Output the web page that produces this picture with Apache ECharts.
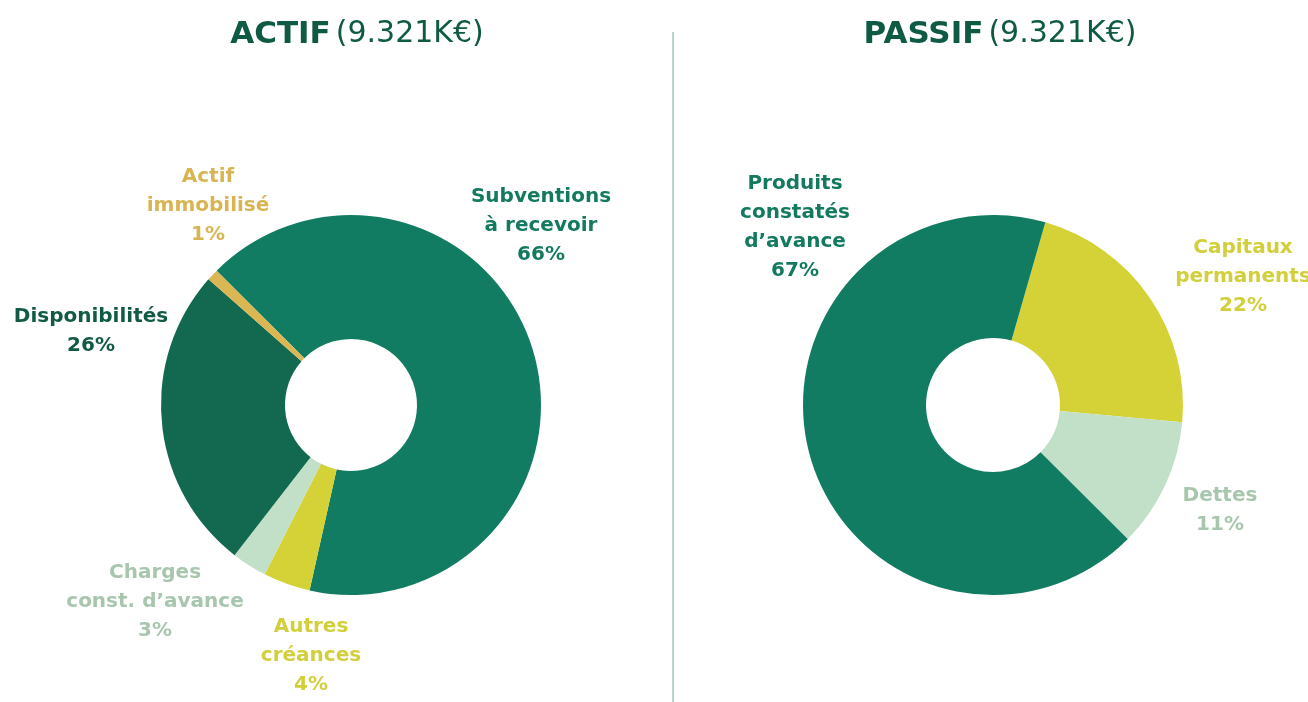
<!DOCTYPE html>
<html lang="fr">
<head>
    <meta charset="UTF-8">
    <title>Actif / Passif</title>
    <script src="https://cdn.jsdelivr.net/npm/echarts@6/dist/echarts.min.js"></script>
    <style>
        html, body { margin: 0; padding: 0; background: #fff; }
        #chart { width: 1308px; height: 702px; }
    </style>
</head>
<body>
    <div id="chart"></div>
    <script>
        // données actif
        var actifNames = ['Subventions\nà recevoir', 'Autres\ncréances', 'Charges\nconst. d\u2019avance', 'Disponibilités', 'Actif\nimmobilisé'];
        var actifValues = [66, 4, 3, 26, 1];
        // données passif
        var passifNames = ['Capitaux\npermanents', 'Dettes', 'Produits\nconstatés\nd\u2019avance'];
        var passifValues = [22, 11, 67];
        var totalLabel = '9.321K€';

        // couleurs
        var actifColors = ['#127c62', '#d4d236', '#c2e0c8', '#13694f', '#dab752'];
        var actifLabelColors = ['#137a60', '#d1cf3a', '#a8c5ae', '#115a45', '#d8b552'];
        var passifColors = ['#d4d236', '#c2e0c8', '#127c62'];
        var passifLabelColors = ['#d1cf3a', '#a8c5ae', '#137a60'];

        // position des étiquettes (centre du bloc de texte)
        var actifLabelPos = [[541, 226], [311, 656], [155, 602], [91, 331], [208, 206]];
        var passifLabelPos = [[1243, 277], [1220, 510], [795, 227]];

        function makeData(names, values, colors, labelColors) {
            return names.map(function (n, i) {
                var lines = n.split('\n').map(function (l) { return '{n|' + l + '}'; });
                return {
                    name: n,
                    value: values[i],
                    itemStyle: { color: colors[i] },
                    label: {
                        formatter: lines.join('\n') + '\n{p|' + values[i] + '%}',
                        rich: {
                            n: { color: labelColors[i], fontSize: 20, fontWeight: 'bold', fontFamily: 'DejaVu Sans', lineHeight: 29 },
                            p: { color: labelColors[i], fontSize: 20, fontWeight: 'bold', fontFamily: 'DejaVu Sans', lineHeight: 29 }
                        }
                    }
                };
            });
        }

        var titleRich = {
            b: { fontSize: 31, fontWeight: 'bold', color: '#0f5a44', fontFamily: 'DejaVu Sans' },
            r: { fontSize: 30, fontWeight: 'normal', color: '#0f5a44', fontFamily: 'DejaVu Sans' }
        };

        var myChart = echarts.init(document.getElementById('chart'));
        var option = {
            animation: false,
            title: [{
                text: '{b|ACTIF} {r|(' + totalLabel + ')}',
                left: 352, top: 14, textAlign: 'center',
                textStyle: { rich: titleRich }
            }, {
                text: '{b|PASSIF} {r|(' + totalLabel + ')}',
                left: 995, top: 14, textAlign: 'center',
                textStyle: { rich: titleRich }
            }],
            graphic: [{
                type: 'line',
                shape: { x1: 673, y1: 32, x2: 673, y2: 702 },
                style: { stroke: '#b5d9cf', lineWidth: 2 }
            }],
            series: [{
                type: 'pie',
                center: [351, 405],
                radius: [66, 190],
                startAngle: 135,
                clockwise: true,
                label: { show: true, position: 'outside', align: 'center', overflow: 'none' },
                labelLine: { show: false },
                labelLayout: function (p) {
                    var pos = actifLabelPos[p.dataIndex];
                    return { x: pos[0], y: pos[1], align: 'center', verticalAlign: 'middle' };
                },
                data: makeData(actifNames, actifValues, actifColors, actifLabelColors)
            }, {
                type: 'pie',
                center: [993, 405],
                radius: [67, 190],
                startAngle: 74,
                clockwise: true,
                label: { show: true, position: 'outside', align: 'center', overflow: 'none' },
                labelLine: { show: false },
                labelLayout: function (p) {
                    var pos = passifLabelPos[p.dataIndex];
                    return { x: pos[0], y: pos[1], align: 'center', verticalAlign: 'middle' };
                },
                data: makeData(passifNames, passifValues, passifColors, passifLabelColors)
            }]
        };
        myChart.setOption(option);
    </script>
</body>
</html>
